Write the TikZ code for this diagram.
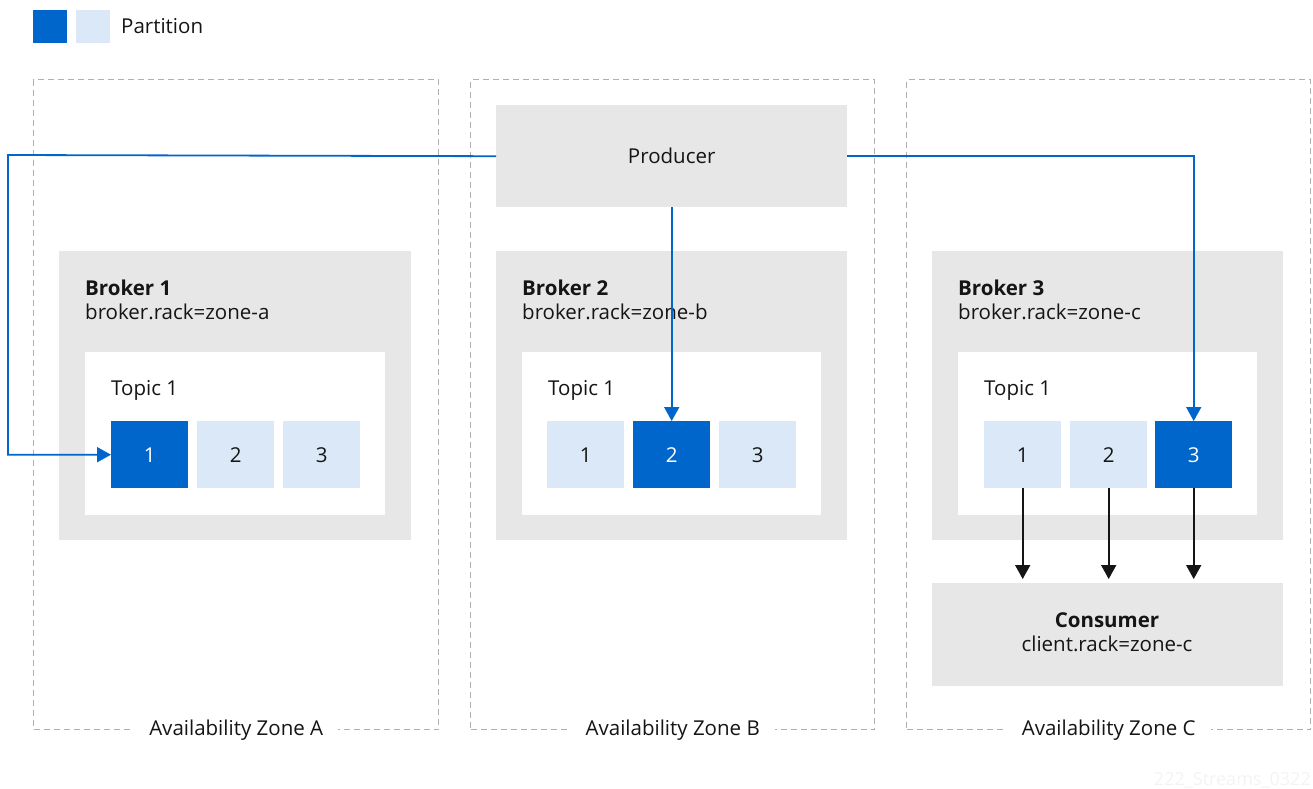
\documentclass[tikz,border=0pt]{standalone}
\usepackage{fontspec}
\setmainfont{Open Sans}
\usetikzlibrary{arrows.meta}
\definecolor{dblue}{HTML}{0066CC}
\definecolor{lblue}{HTML}{DAE8F7}
\definecolor{lgray}{HTML}{E7E7E7}
\definecolor{dashcol}{HTML}{B0B0B0}
\definecolor{txt}{HTML}{151515}
\definecolor{wmark}{HTML}{F3F3F3}
\begin{document}
\begin{tikzpicture}[x=1pt,y=-1pt,
  font=\fontsize{20.5}{24}\selectfont, text=txt,
  zone/.style={draw=dashcol, line width=1.4pt, dash pattern=on 6pt off 4pt, anchor=north west, inner sep=0pt},
  zlabel/.style={fill=white, inner xsep=15pt, inner ysep=2pt},
  graybox/.style={fill=lgray, draw=none, anchor=north west, inner sep=0pt},
  whitebox/.style={fill=white, draw=none, anchor=north west, inner sep=0pt},
  part/.style={anchor=north west, minimum width=77pt, minimum height=67pt, inner sep=0pt},
  dpart/.style={part, fill=dblue, text=white},
  lpart/.style={part, fill=lblue, text=txt},
  flow/.style={draw=dblue, line width=1.8pt, -{Triangle[length=14pt,width=15pt]}},
  cons/.style={draw=txt, line width=1.8pt, -{Triangle[length=14pt,width=15pt]}, shorten >=4pt},
  lbl/.style={anchor=base west, inner sep=0pt}
]
\useasboundingbox (0,0) rectangle (1313,788);

% legend
\node[fill=dblue, anchor=north west, minimum width=34pt, minimum height=33pt, inner sep=0pt] (lg1) at (33,10) {};
\node[fill=lblue, anchor=north west, minimum width=34pt, minimum height=33pt, inner sep=0pt] (lg2) at (76,10) {};
\node[anchor=west, inner sep=0pt] (lgt) at (121,26) {Partition};

% zones
\node[zone, minimum width=405pt, minimum height=650pt] (za) at (33,79) {};
\node[zone, minimum width=404pt, minimum height=650pt] (zb) at (470,79) {};
\node[zone, minimum width=404pt, minimum height=650pt] (zc) at (906,79) {};
\node[zlabel] (zla) at (za.south) {Availability Zone A};
\node[zlabel] (zlb) at (zb.south) {Availability Zone B};
\node[zlabel] (zlc) at (zc.south) {Availability Zone C};

% producer
\node[graybox, minimum width=351pt, minimum height=102pt] (prod) at (496,105) {};
\node (prodt) at (prod.center) {Producer};

% brokers
\node[graybox, minimum width=352pt, minimum height=289pt] (b1) at (59,251) {};
\node[graybox, minimum width=351pt, minimum height=289pt] (b2) at (496,251) {};
\node[graybox, minimum width=351pt, minimum height=289pt] (b3) at (932,251) {};
\node[lbl] (b1n) at (85,295) {\textbf{Broker 1}};
\node[lbl] (b1r) at (85,319) {broker.rack=zone-a};
\node[lbl] (b2n) at (522,295) {\textbf{Broker 2}};
\node[lbl] (b2r) at (522,319) {broker.rack=zone-b};
\node[lbl] (b3n) at (958,295) {\textbf{Broker 3}};
\node[lbl] (b3r) at (958,319) {broker.rack=zone-c};

% topics
\node[whitebox, minimum width=300pt, minimum height=163pt] (t1) at (85,352) {};
\node[whitebox, minimum width=299pt, minimum height=163pt] (t2) at (522,352) {};
\node[whitebox, minimum width=299pt, minimum height=163pt] (t3) at (958,352) {};
\node[lbl] (t1n) at (111,395) {Topic 1};
\node[lbl] (t2n) at (548,395) {Topic 1};
\node[lbl] (t3n) at (984,395) {Topic 1};

% partitions
\node[dpart] (p11) at (111,421) {1};
\node[lpart] (p12) at (197,421) {2};
\node[lpart] (p13) at (283,421) {3};
\node[lpart] (p21) at (547,421) {1};
\node[dpart] (p22) at (633,421) {2};
\node[lpart] (p23) at (719,421) {3};
\node[lpart] (p31) at (984,421) {1};
\node[lpart] (p32) at (1070,421) {2};
\node[dpart] (p33) at (1155,421) {3};

% consumer
\node[graybox, minimum width=351pt, minimum height=103pt] (cons) at (932,583) {};
\node[anchor=base, inner sep=0pt] (consn) at (1107,627) {\textbf{Consumer}};
\node[anchor=base, inner sep=0pt] (consr) at (1107,651) {client.rack=zone-c};

% producer flows
\coordinate (lft) at (8,155);
\draw[flow] (prod.west) -- (lft) |- (p11.west);
\draw[flow] (prod.south) -- (p22.north);
\draw[flow] (prod.east) -| (p33.north);

% consumer flows
\draw[cons] (p31.south) -- (p31.south |- cons.north);
\draw[cons] (p32.south) -- (p32.south |- cons.north);
\draw[cons] (p33.south) -- (p33.south |- cons.north);

% watermark
\node[text=wmark, anchor=base east, inner sep=0pt, font=\fontsize{18}{20}\selectfont] (wm) at (1311,785) {222\_Streams\_0322};
\end{tikzpicture}
\end{document}
